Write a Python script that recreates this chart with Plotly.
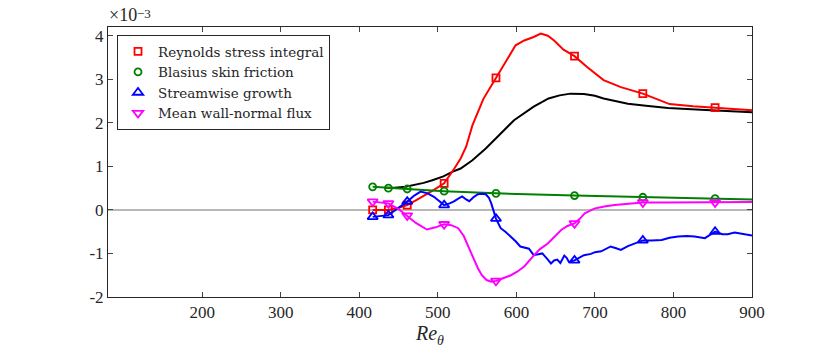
import plotly.graph_objects as go

# Data (y values in units of 1e-3)
marker_x = [417, 437, 461, 508, 574, 674, 761, 853]

red_x = [417, 437, 450, 461, 472, 484, 495, 508, 515, 521, 529, 536, 544, 558, 574, 589, 599, 610, 622, 631,
         640, 648, 660, 674, 690, 711, 733, 761, 795, 825, 853, 880, 900]
red_y = [0.0, 0.0, 0.05, 0.11, 0.22, 0.34, 0.46, 0.61, 0.78, 0.95, 1.18, 1.45, 1.94, 2.55, 3.03, 3.47, 3.78, 3.89,
         3.97, 4.05, 4.0, 3.89, 3.68, 3.53, 3.28, 2.98, 2.82, 2.67, 2.43, 2.38, 2.35, 2.31, 2.29]

black_x = [433, 445, 459, 470, 482, 493, 507, 519, 529, 544, 561, 576, 597, 622, 641, 655, 669, 686, 700, 711,
           725, 742, 765, 793, 835, 870, 900]
black_y = [0.51, 0.51, 0.53, 0.57, 0.62, 0.68, 0.77, 0.88, 0.95, 1.14, 1.41, 1.68, 2.06, 2.37, 2.56, 2.63, 2.67,
           2.66, 2.62, 2.56, 2.5, 2.44, 2.39, 2.34, 2.3, 2.27, 2.24]

green_x = [417, 437, 461, 508, 574, 674, 761, 853, 900]
green_y = [0.53, 0.5, 0.48, 0.43, 0.38, 0.33, 0.29, 0.26, 0.24]

blue_x = [417, 437, 461, 470, 478, 487, 495, 508, 515, 520, 526, 531, 536, 540, 546, 551, 556, 561, 565, 568,
          574, 580, 586, 593, 599, 605, 611, 616, 622, 628, 633, 639, 644, 648, 652, 656, 661, 664, 667, 674,
          680, 686, 695, 700, 708, 714, 720, 727, 733, 742, 750, 761, 772, 785, 795, 806, 817, 827, 840, 853,
          862, 869, 878, 888, 900]
blue_y = [-0.16, -0.12, 0.19, 0.33, 0.42, 0.38, 0.3, 0.11, 0.15, 0.19, 0.26, 0.31, 0.24, 0.2, 0.3, 0.36, 0.37,
          0.36, 0.28, 0.15, -0.2, -0.42, -0.5, -0.61, -0.72, -0.84, -0.86, -0.89, -1.04, -1.02, -1.0, -1.12,
          -1.23, -1.16, -1.14, -1.22, -1.05, -1.1, -1.2, -1.16, -1.1, -1.04, -1.01, -0.97, -0.95, -0.9, -0.84,
          -0.88, -0.92, -0.83, -0.77, -0.7, -0.7, -0.69, -0.64, -0.61, -0.6, -0.61, -0.65, -0.5, -0.56, -0.56,
          -0.52, -0.55, -0.59]

magenta_x = [417, 437, 450, 461, 472, 486, 497, 508, 517, 526, 533, 538, 545, 551, 556, 562, 568, 574, 583, 593,
             601, 610, 622, 630, 640, 648, 657, 665, 674, 681, 687, 699, 712, 725, 740, 761, 790, 820, 853, 880, 900]
magenta_y = [0.19, 0.15, 0.02, -0.13, -0.3, -0.45, -0.4, -0.33, -0.35, -0.42, -0.6, -0.81, -1.1, -1.34, -1.5,
             -1.61, -1.65, -1.63, -1.57, -1.5, -1.42, -1.3, -1.05, -0.9, -0.77, -0.62, -0.46, -0.37, -0.31, -0.2,
             -0.08, 0.03, 0.08, 0.11, 0.14, 0.17, 0.17, 0.17, 0.17, 0.17, 0.18]

y_ticks = [-2, -1, 0, 1, 2, 3, 4]
y_ticktext = ["-2", "-1", "0", "1", "2", "3", "4"]
x_ticks = [200, 300, 400, 500, 600, 700, 800, 900]

FONT = "Liberation Serif, DejaVu Serif, Times New Roman, serif"
LEG_FONT = "DejaVu Serif, Liberation Serif, serif"

series = [
    ("Reynolds stress integral", red_x, red_y, "#ff0000", "square-open", 7),
    ("Blasius skin friction", green_x, green_y, "#008000", "circle-open", 7),
    ("Streamwise growth", blue_x, blue_y, "#0000ff", "triangle-up-open", 9),
    ("Mean wall-normal flux", magenta_x, magenta_y, "#ff00ff", "triangle-down-open", 9),
]

fig = go.Figure()

# black curve (no legend entry)
fig.add_trace(go.Scatter(x=black_x, y=black_y, mode="lines", line=dict(color="black", width=2),
                         showlegend=False, hoverinfo="skip"))

for name, xs, ys, col, sym, sz in series:
    fig.add_trace(go.Scatter(x=xs, y=ys, mode="lines", line=dict(color=col, width=2),
                             showlegend=False))
    mx = [x for x in xs if x in marker_x]
    my = [y for x, y in zip(xs, ys) if x in marker_x]
    fig.add_trace(go.Scatter(x=mx, y=my, mode="markers", name=name,
                             marker=dict(symbol=sym, size=sz, color=col, line=dict(color=col, width=1.8))))

# page body adds an 8px offset, margins compensate for it
fig.update_layout(
    width=830, height=353,
    margin=dict(l=100, r=86, t=19, b=64),
    plot_bgcolor="white", paper_bgcolor="white",
    font=dict(family=FONT, size=17, color="#262626"),
    legend=dict(x=0.014, y=0.97, xanchor="left", yanchor="top",
                bgcolor="white", bordercolor="#262626", borderwidth=1,
                font=dict(family=LEG_FONT, size=13.5, color="#262626"),
                itemwidth=30, tracegroupgap=0),
    annotations=[
        dict(text="×10", x=0, y=1, xref="paper", yref="paper", xanchor="left", yanchor="bottom",
             showarrow=False, yshift=0, xshift=-1, font=dict(family=FONT, size=18, color="#262626")),
        dict(text="−3", x=0, y=1, xref="paper", yref="paper", xanchor="left", yanchor="bottom",
             showarrow=False, yshift=4, xshift=27, font=dict(family=FONT, size=13, color="#262626")),
    ],
)

fig.update_xaxes(
    range=[80, 900], tickvals=x_ticks, ticks="inside", ticklen=5,
    showline=True, linecolor="#262626", linewidth=1, mirror="ticks",
    showgrid=False, zeroline=False,
    title=dict(text="<i>Re</i><sub><i>θ</i></sub>", font=dict(family=FONT, size=20), standoff=3),
)
fig.update_yaxes(
    range=[-2, 4.2], tickvals=y_ticks, ticktext=y_ticktext, ticks="inside", ticklen=5,
    showline=True, linecolor="#262626", linewidth=1, mirror="ticks",
    showgrid=False, zeroline=True, zerolinecolor="#b8b8b8", zerolinewidth=1.5,
)

fig.write_html("out.html")
